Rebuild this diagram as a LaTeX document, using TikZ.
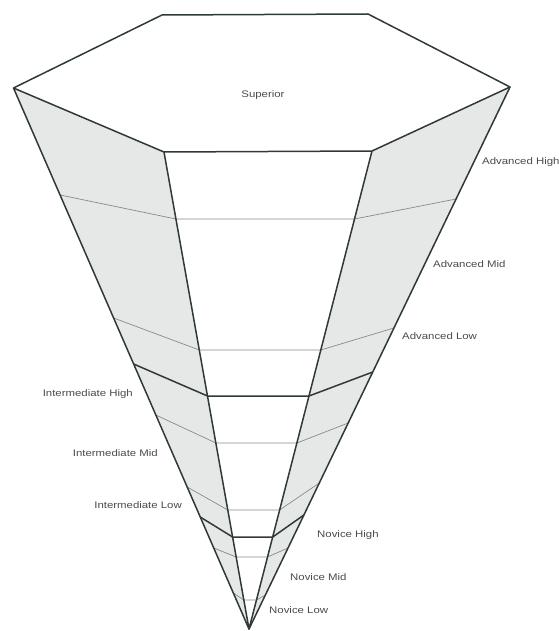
\documentclass[tikz,border=0pt]{standalone}
\usepackage{fontspec}
\setmainfont{Liberation Sans}
\usepackage{graphicx}
\definecolor{edgec}{HTML}{2F3A36}
\definecolor{thinc}{HTML}{848C89}
\definecolor{facec}{HTML}{E6E8E8}
\definecolor{lblc}{HTML}{4A4A4A}
\newcommand\wtext[1]{\scalebox{1.2}[1]{#1}}
\tikzset{
  edgeline/.style={draw=edgec, line width=1.5pt, line join=round},
  levelthin/.style={draw=thinc, line width=0.7pt},
  levelthick/.style={draw=edgec, line width=1.5pt, line join=round},
  facefill/.style={fill=facec},
  lab/.style={font=\fontsize{9.5}{10}\selectfont, text=lblc, inner sep=0pt},
}
\begin{document}
\begin{tikzpicture}[x=1pt,y=-1pt]
\useasboundingbox (0,0) rectangle (558,631);
% hexagon and apex
\coordinate (TL) at (162,15);
\coordinate (TR) at (368,14);
\coordinate (RV) at (510,87);
\coordinate (FR) at (372,151);
\coordinate (FL) at (164,152);
\coordinate (LV) at (13.5,88);
\coordinate (A)  at (249,629);
% level points: outer-left, inner-left, inner-right, outer-right
\coordinate (a1) at (60.1,195);  \coordinate (b1) at (175.9,219); \coordinate (c1) at (354.5,219); \coordinate (d1) at (456.1,199);
\coordinate (a2) at (113.6,318); \coordinate (b2) at (199.3,350); \coordinate (c2) at (320.8,350); \coordinate (d2) at (393.9,328);
\coordinate (a3) at (133.6,364); \coordinate (b3) at (207.5,396); \coordinate (c3) at (309.0,396); \coordinate (d3) at (372.8,372);
\coordinate (a4) at (155.8,415); \coordinate (b4) at (215.9,443); \coordinate (c4) at (296.9,443); \coordinate (d4) at (348.2,423);
\coordinate (a5) at (187.2,487); \coordinate (b5) at (227.8,510); \coordinate (c5) at (279.6,510); \coordinate (d5) at (319.3,483);
\coordinate (a6) at (200.2,517); \coordinate (b6) at (232.6,537); \coordinate (c6) at (272.7,537); \coordinate (d6) at (303.9,515);
\coordinate (a7) at (213.7,548); \coordinate (b7) at (236.2,557); \coordinate (c7) at (267.5,557); \coordinate (d7) at (288.0,548);
\coordinate (a8) at (233.3,593); \coordinate (b8) at (243.8,600); \coordinate (c8) at (256.5,600); \coordinate (d8) at (265.4,595);
% side faces
\fill[facefill] (LV) -- (FL) -- (A) -- cycle;
\fill[facefill] (FR) -- (RV) -- (A) -- cycle;
% level lines
\foreach \i in {1,2,4,5,7,8} {
  \draw[levelthin] (a\i) -- (b\i) -- (c\i) -- (d\i);
}
\foreach \i in {3,6} {
  \draw[levelthick] (a\i) -- (b\i) -- (c\i) -- (d\i);
}
% edges
\draw[edgeline] (TL) -- (TR) -- (RV) -- (FR) -- (FL) -- (LV) -- cycle;
\draw[edgeline] (LV) -- (A) -- (RV);
\draw[edgeline] (FL) -- (A) -- (FR);
% labels
\node[lab] (sup) at (263,95) {\wtext{Superior}};
\node[lab, anchor=west] (ah) at (482,162) {\wtext{Advanced High}};
\node[lab, anchor=west] (am) at (433,264) {\wtext{Advanced Mid}};
\node[lab, anchor=west] (al) at (402,336) {\wtext{Advanced Low}};
\node[lab, anchor=east] (ih) at (133,394) {\wtext{Intermediate High}};
\node[lab, anchor=east] (im) at (158,453) {\wtext{Intermediate Mid}};
\node[lab, anchor=east] (il) at (182,505) {\wtext{Intermediate Low}};
\node[lab, anchor=west] (nh) at (317,535) {\wtext{Novice High}};
\node[lab, anchor=west] (nm) at (290,577) {\wtext{Novice Mid}};
\node[lab, anchor=west] (nl) at (269,610) {\wtext{Novice Low}};
\end{tikzpicture}
\end{document}
